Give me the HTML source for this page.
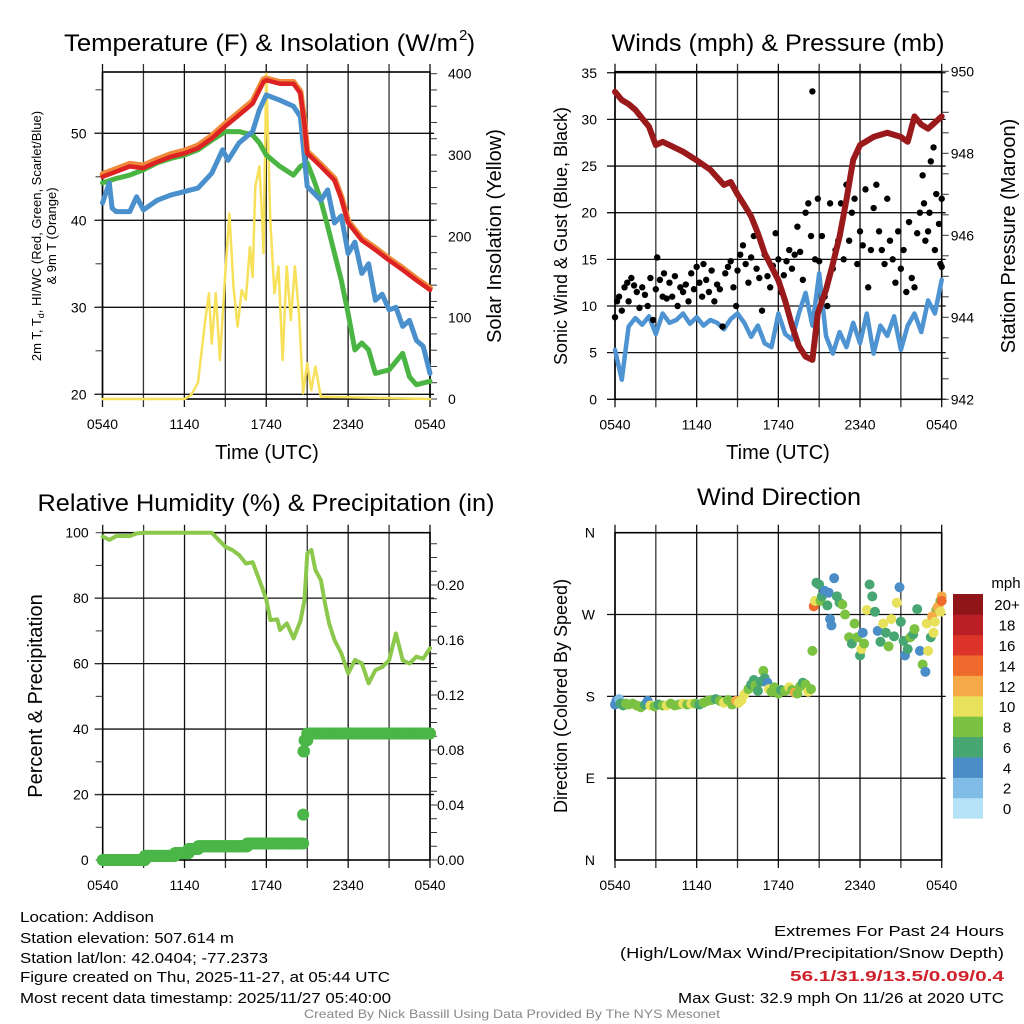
<!DOCTYPE html>
<html><head><meta charset="utf-8"><style>
html,body{margin:0;padding:0;background:#fff;}
svg{display:block;font-family:"Liberation Sans",Arial,sans-serif;}
</style></head><body>
<svg id="fig" width="1024" height="1024" viewBox="0 0 1024 1024" xmlns="http://www.w3.org/2000/svg">
<rect width="1024" height="1024" fill="#fff"/>
<text x="64" y="51" font-size="24" textLength="394" lengthAdjust="spacingAndGlyphs">Temperature (F) &amp; Insolation (W/m</text>
<text x="459" y="40" font-size="15">2</text>
<text x="467" y="51" font-size="24">)</text>
<text x="778" y="51" font-size="24" text-anchor="middle" textLength="333" lengthAdjust="spacingAndGlyphs">Winds (mph) &amp; Pressure (mb)</text>
<text x="266" y="511" font-size="24" text-anchor="middle" textLength="457" lengthAdjust="spacingAndGlyphs">Relative Humidity (%) &amp; Precipitation (in)</text>
<text x="779" y="505" font-size="24" text-anchor="middle" textLength="164" lengthAdjust="spacingAndGlyphs">Wind Direction</text>

<text transform="translate(41,236) rotate(-90)" font-size="13" text-anchor="middle">2m T, T<tspan font-size="9" dy="3">d</tspan><tspan dy="-3">, HI/WC (Red, Green, Scarlet/Blue)</tspan></text>
<text transform="translate(56,236) rotate(-90)" font-size="13" text-anchor="middle">&amp; 9m T (Orange)</text>
<text transform="translate(501,236) rotate(-90)" font-size="20" text-anchor="middle">Solar Insolation (Yellow)</text>
<text x="267" y="459" font-size="20" text-anchor="middle">Time (UTC)</text>
<text transform="translate(567,236) rotate(-90)" font-size="18" text-anchor="middle">Sonic Wind &amp; Gust (Blue, Black)</text>
<text transform="translate(1015,236) rotate(-90)" font-size="20" text-anchor="middle">Station Pressure (Maroon)</text>
<text x="778" y="459" font-size="20" text-anchor="middle">Time (UTC)</text>
<text transform="translate(42,696) rotate(-90)" font-size="20" text-anchor="middle">Percent &amp; Precipitation</text>
<text transform="translate(567,696) rotate(-90)" font-size="18" text-anchor="middle">Direction (Colored By Speed)</text>

<g font-size="15">
<text x="20" y="922" textLength="134" lengthAdjust="spacingAndGlyphs">Location: Addison</text>
<text x="20" y="943" textLength="214" lengthAdjust="spacingAndGlyphs">Station elevation: 507.614 m</text>
<text x="20" y="963" textLength="248" lengthAdjust="spacingAndGlyphs">Station lat/lon: 42.0404; -77.2373</text>
<text x="20" y="982" textLength="370" lengthAdjust="spacingAndGlyphs">Figure created on Thu, 2025-11-27, at 05:44 UTC</text>
<text x="20" y="1003" textLength="371" lengthAdjust="spacingAndGlyphs">Most recent data timestamp: 2025/11/27 05:40:00</text>
<text x="1004" y="936" text-anchor="end" textLength="230" lengthAdjust="spacingAndGlyphs">Extremes For Past 24 Hours</text>
<text x="1004" y="958" text-anchor="end" textLength="384" lengthAdjust="spacingAndGlyphs">(High/Low/Max Wind/Precipitation/Snow Depth)</text>
<text x="1004" y="981" text-anchor="end" fill="#d0202a" font-weight="bold" textLength="214" lengthAdjust="spacingAndGlyphs">56.1/31.9/13.5/0.09/0.4</text>
<text x="1004" y="1003" text-anchor="end" textLength="326" lengthAdjust="spacingAndGlyphs">Max Gust: 32.9 mph On 11/26 at 2020 UTC</text>
</g>
<text x="512" y="1018" font-size="12" fill="#888" text-anchor="middle" textLength="416" lengthAdjust="spacingAndGlyphs">Created By Nick Bassill Using Data Provided By The NYS Mesonet</text>
</svg>
<script>
// ---------- data ----------
const xTickLabels=["0540","1140","1740","2340","0540"];
const redT=[0,1,2,3,4,5,6,7,8,9,10,11,11.8,12,13,14,14.5,14.8,15,16,17,17.5,18,19,20,21,22,23,24];
const redV=[45.0,45.6,46.2,46.0,46.7,47.3,47.7,48.3,49.4,50.8,52.1,53.4,55.9,56.1,55.7,55.7,54.6,51,47.7,46.2,44.6,42.5,39.7,37.7,36.6,35.4,34.3,33.1,32.0];
const orangeV=[45.3,45.9,46.5,46.3,47.0,47.6,48.0,48.6,49.7,51.1,52.4,53.7,56.2,56.3,55.9,55.9,54.8,51.2,47.9,46.4,44.8,42.7,39.9,37.9,36.8,35.6,34.5,33.3,32.2];
const greenT=[0,1,2,3,4,5,6,7,8,9,10,11,11.5,12,13,14,14.5,15,15.5,16,16.5,17,17.5,18,18.5,19,19.5,20,21,22,22.5,23,24];
const greenV=[44.3,44.8,45.2,45.8,46.6,47.1,47.5,48.1,49.2,50.2,50.2,49.8,48.9,47.5,46.2,45.2,46.2,46.6,44.6,42.3,39.3,36.2,33.1,29.3,25.1,25.9,25.1,22.4,22.8,24.7,22.0,21.1,21.5];
const blueT=[0,0.5,0.7,1,2,2.5,3,4,5,6,7,8,8.8,9.2,10,11,11.5,12,13,14,14.5,15,16,16.5,17,17.5,18,18.5,19,19.5,20,20.5,21,21.5,22,22.5,23,23.5,24];
const blueV=[42.0,44.3,41.4,41.0,41.0,42.7,41.2,42.3,42.9,43.3,43.7,45.4,48.1,46.9,48.9,50.2,52.7,54.4,53.8,53.1,51.9,43.9,42.3,43.5,39.7,40.5,36.2,37.5,33.9,35,30.8,31.5,29.7,30,27.8,28.5,26.2,25.5,22.4];
const solT=[0,6,6.5,7,7.5,7.8,8,8.3,8.6,9,9.3,9.6,9.9,10.2,10.5,10.8,11,11.2,11.5,11.7,11.8,12,12.3,12.6,12.9,13.2,13.5,13.8,14.1,14.4,14.7,15,15.3,15.6,16,24];
const solV=[0,0,5,20,93,130,68,130,48,155,228,138,89,134,122,187,150,261,286,220,179,400,220,130,163,48,163,97,163,105,7,44,11,40,3,0];
const tempTicks=[20,30,40,50];
const solarTicks=[0,100,200,300,400];

const presT=[0,0.5,1,1.5,2,2.5,3,3.5,4,5,6,7,8,8.5,9,9.5,10,10.5,11,12,12.5,13,13.5,14,14.5,14.9,15.5,16,16.5,17,17.5,18,18.5,19,20,21,21.5,22,22.5,23,24];
const presV=[949.5,949.3,949.2,949.06,948.85,948.65,948.2,948.28,948.2,948.04,947.83,947.6,947.23,947.3,947.0,946.74,946.46,946.05,945.56,944.9,944.4,943.8,943.3,943.04,942.96,944.1,944.67,945.3,945.97,946.86,947.84,948.2,948.3,948.4,948.5,948.4,948.28,948.9,948.7,948.6,948.9];
const windV=[5.3,2.1,7.8,8.7,8.0,8.9,7.0,9.2,8.2,8.5,9.2,8.1,8.8,7.9,8.5,8.2,7.5,8.6,9.2,8.2,6.7,7.9,6.0,5.6,9.2,7.0,6.4,9.2,11.4,7.9,13.5,6.8,4.9,7.2,5.6,8.2,6.0,9.2,4.9,7.9,6.8,8.9,5.3,7.9,9.2,7.2,10.6,9.2,12.8];
const gustT=[0,0.15,0.3,0.5,0.7,0.9,1.0,1.2,1.4,1.6,1.8,2.0,2.2,2.4,2.6,2.8,3.0,3.1,3.3,3.5,3.6,3.8,4.0,4.2,4.4,4.6,4.8,5.0,5.2,5.4,5.6,5.8,6.0,6.2,6.4,6.5,6.7,6.9,7.1,7.3,7.5,7.7,7.9,8.1,8.3,8.5,8.7,8.9,9.0,9.2,9.4,9.6,9.8,10,10.2,10.4,10.6,10.8,11.0,11.2,11.4,11.6,11.8,12.0,12.2,12.4,12.6,12.8,13.0,13.2,13.4,13.6,13.8,14.0,14.2,14.4,14.5,14.7,14.9,15.0,15.2,15.4,15.6,15.8,16.0,16.2,16.4,16.6,16.8,17.0,17.2,17.4,17.6,17.8,18.0,18.2,18.4,18.6,18.8,19.0,19.2,19.4,19.6,19.8,20.0,20.2,20.4,20.6,20.8,21.0,21.2,21.4,21.6,21.8,22.0,22.2,22.4,22.6,22.7,22.8,23.0,23.1,23.2,23.4,23.5,23.6,23.8,23.9,24.0,24.0];
const gustV=[8.8,10.5,11,9.5,12,12.5,10.5,13,12.2,11.5,9.8,12,11.2,10,13,8.5,11.8,15.2,12.8,11,13.5,10.8,12.5,11,13.2,10,12,11.5,12.3,10.5,13.5,11.8,14.2,12.5,11,14.5,12.8,11.5,13.8,10.5,12.3,11.8,7.8,13.5,14.2,14.8,12,10,13.8,15.5,16.5,14.5,12.5,15.2,17.5,14,13,9.5,15.5,13.2,12,14.3,17.8,15,11.5,13.3,14.8,16,14,15.5,18.5,15.8,12.8,20,21,17.5,33,15,21.5,14.8,17.5,11,10,21,14,16,17,21,15,23,17,20,21.5,14.5,18,16.5,22.5,12,16,20.5,23,18,16,14.5,21.5,17,15,12.5,18,14,16,11.5,19,13,12,17.8,20,24,21,17,18,20,25.5,27,16,22,18.8,14.5,21.5,14.2];
const windTicks=[0,5,10,15,20,25,30,35];
const presTicks=[942,944,946,948,950];

const rhT=[0,0.5,1,2,2.5,3,5,8,8.5,9,9.5,10,10.5,11,11.3,11.8,12,12.3,12.8,13,13.5,14,14.5,14.8,15,15.3,15.6,16,16.3,16.6,17,17.5,18,18.5,19,19.5,20,20.5,21,21.5,22,22.5,23,23.5,24];
const rhV=[98.8,97.8,99,99,99.8,100,100,100,97.8,95.7,94.7,93.2,90.6,91,87.6,82,79.4,73.3,73.5,70.3,72.3,67.7,73,79.4,93.7,94.7,88.6,85.5,78.4,72.3,67.2,63.1,57,61.1,60.1,54,58,59,61,69.2,61,60,62.1,61.5,64.7];
const precipT=[0,3.1,5.3,6.3,7,10.6,14.7,14.72,14.8,15];
const precipV=[0,0.003,0.005,0.008,0.01,0.012,0.033,0.079,0.087,0.092];
const rhTicks=[0,20,40,60,80,100];
const precipTicks=[0,0.04,0.08,0.12,0.16,0.20];

const dirT=[0,0.1,0.3,0.4,0.6,0.8,1.0,1.3,1.6,1.9,2.2,2.4,2.6,2.9,3.2,3.5,3.8,4.1,4.4,4.7,5.0,5.3,5.6,5.9,6.2,6.5,6.8,7.1,7.4,7.7,8.0,8.3,8.6,8.9,9.1,9.3,9.5,9.8,10.0,10.2,10.3,10.5,10.7,10.9,11.0,11.2,11.3,11.5,11.7,12.0,12.2,12.5,12.8,13.0,13.2,13.4,13.6,13.8,14.0,14.2,14.4,14.5,14.6,14.7,14.8,15.0,15.1,15.2,15.4,15.6,15.7,15.8,15.9,16.1,16.3,16.5,16.7,16.9,17.2,17.4,17.6,17.8,18.0,18.1,18.2,18.3,18.5,18.7,18.9,19.1,19.3,19.5,19.7,19.9,20.1,20.3,20.5,20.7,20.9,21.0,21.2,21.3,21.5,21.7,21.9,22.0,22.2,22.4,22.6,22.8,23.0,23.2,23.4,23.6,23.8,23.9,24.0,22.9,23.3,23.5,23.7,24.0,23.9];
const dirV=[171,175,177,172,170,172,171,172,170,168,171,175,170,169,171,170,170,172,170,171,172,171,172,172,171,173,175,176,177,175,173,176,171,175,173,176,182,188,193,198,192,186,196,208,200,195,188,185,190,183,187,186,190,187,184,183,191,195,193,185,188,230,279,285,305,303,285,290,296,280,294,265,258,310,290,283,281,270,245,238,260,245,225,232,250,238,275,303,290,273,252,240,260,250,235,265,246,283,300,262,241,225,232,245,248,254,276,230,215,207,230,245,250,275,280,285,290,260,268,262,278,285,273];
const dirS=[4,4,2,6,6,8,8,8,8,8,6,4,10,8,6,8,10,8,8,8,10,8,10,8,6,8,8,8,6,8,10,8,8,12,10,10,10,8,6,6,8,6,6,8,6,4,10,8,8,8,6,8,10,8,12,8,8,6,8,10,8,8,14,10,6,6,8,6,4,6,4,4,4,4,6,6,8,8,8,6,8,8,6,10,4,8,10,6,6,6,4,6,10,6,8,10,6,10,4,6,6,4,6,8,6,8,6,4,8,4,10,6,10,8,10,8,12,10,12,10,12,14,10];
const dirTicks=[0,90,180,270,360];
const dirTickLabels=["N","E","S","W","N"];
const speedBins=["0","2","4","6","8","10","12","14","16","18","20+"];
const speedColors=["#b5e2f7","#80bde6","#4a8dc7","#47a671","#7cc242","#e8e15b","#f6a947","#ee6a2d","#dc3428","#ba1f26","#8f1519"];

// ---------- helpers ----------
const NS="http://www.w3.org/2000/svg";
const svg=document.getElementById('fig');
function mk(tag,attrs,parent){const e=document.createElementNS(NS,tag);for(const k in attrs)e.setAttribute(k,attrs[k]);(parent||svg).appendChild(e);return e;}
const P1={x0:102.5,x1:430,y0:72,y1:399};
const P2={x0:615,x1:941.7,y0:71.7,y1:399.3};
const P3={x0:102.7,x1:430,y0:532.7,y1:860};
const P4={x0:615,x1:941.7,y0:532.7,y1:860};
function xs(P,t){return P.x0+t/24*(P.x1-P.x0);}
const t1y=v=>133.3-(v-50)*8.7;
const s1y=w=>399-w*0.8133;
const w2y=m=>399.3-m*9.33;
const p2y=mb=>399.3-(mb-942)*41;
const h3y=r=>860-r*3.273;
const p3y=v=>860-v*1375;
const d4y=d=>860-d*(327.3/360);

function grid(P,hVals,yf,name){
  const g=mk('g',{});
  
  
  for(let t=0;t<=24;t+=3){
    const x=xs(P,t);
    const l=mk('line',{x1:x,x2:x,y1:P.y0-8,y2:P.y1+8,stroke:(t%6==0?'#111':'#333'),'stroke-width':1.3},g);
    
    
  }
  hVals.forEach(v=>{
    const y=yf(v);
    const l=mk('line',{x1:P.x0-8,x2:P.x1+4,y1:y,y2:y,stroke:'#111','stroke-width':1.3},g);
    
    
  });
  const f=mk('rect',{x:P.x0,y:P.y0,width:P.x1-P.x0,height:P.y1-P.y0,fill:'none',stroke:'#000','stroke-width':1.6},g);
  
  
  xTickLabels.forEach((s,i)=>{
    const tx=mk('text',{x:xs(P,i*6),y:P.y1+30,'font-size':14,'text-anchor':'middle'},g);
    tx.textContent=s;
    
    
  });
}
function leftLabels(P,vals,yf,fmt,name,dx){
  vals.forEach(v=>{
    const tx=mk('text',{x:P.x0-(dx||14),y:yf(v)+5,'font-size':14,'text-anchor':'end'});
    tx.textContent=fmt(v);
    
    
  });
}
function rightAxis(P,vals,yf,fmt,minorStep,lo,hi,name,dx){
  for(let v=lo;v<=hi+1e-9;v+=minorStep){
    const y=yf(v);
    const l=mk('line',{x1:P.x1,x2:P.x1+7,y1:y,y2:y,stroke:'#333','stroke-width':1});
    
    
  }
  vals.forEach(v=>{
    const tx=mk('text',{x:P.x1+dx,y:yf(v)+5,'font-size':14});
    tx.textContent=fmt(v);
    
    
  });
}
function line(P,T,V,yf,color,w,name){
  const d=T.map((t,i)=>(i?'L':'M')+xs(P,t).toFixed(1)+','+yf(V[i]).toFixed(1)).join('');
  const p=mk('path',{d:d,fill:'none',stroke:color,'stroke-width':w,'stroke-linejoin':'round','stroke-linecap':'round'});
  
  
}

// ---------- panel 1 ----------
grid(P1,tempTicks,t1y,'temperature');
for(let v=20;v<=55;v+=5){const y=t1y(v);const l=mk('line',{x1:P1.x0-7,x2:P1.x0,y1:y,y2:y,stroke:'#333'});}
leftLabels(P1,tempTicks,t1y,v=>v,'temperature',16);
rightAxis(P1,solarTicks,s1y,v=>v,20,0,400,'solar',18);
line(P1,solT,solV,s1y,'#f7e05a',2.5,'solar-insolation-line');
line(P1,greenT,greenV,t1y,'#4bb543',5,'dewpoint-line');
line(P1,blueT,blueV,t1y,'#4a90cc',5,'heat-index-wind-chill-line');
line(P1,redT,orangeV,t1y,'#f08a3a',6,'9m-temperature-line');
line(P1,redT,redV,t1y,'#dc2222',4.5,'2m-temperature-line');

// ---------- panel 2 ----------
grid(P2,windTicks,w2y,'winds');
leftLabels(P2,windTicks,w2y,v=>v,'wind',18);
rightAxis(P2,presTicks,p2y,v=>v,0.5,942,950,'pressure',9);
line(P2,windV.map((v,i)=>i*0.5),windV,w2y,'#4e94d2',4.5,'sonic-wind-line');
gustT.forEach((t,i)=>{
  const c=mk('circle',{cx:xs(P2,t),cy:w2y(gustV[i]),r:3.2,fill:'#000'});
  
  
});
line(P2,presT,presV,p2y,'#9a1a1c',6,'pressure-line');

// ---------- panel 3 ----------
grid(P3,[20,40,60,80],h3y,'humidity');
for(let v=0;v<=100;v+=10){const y=h3y(v);const l=mk('line',{x1:P3.x0-7,x2:P3.x0,y1:y,y2:y,stroke:'#333'});}
leftLabels(P3,rhTicks,h3y,v=>v,'humidity',14);
rightAxis(P3,precipTicks,p3y,v=>v.toFixed(2),0.01,0,0.23,'precip',7);
line(P3,rhT,rhV,h3y,'#8cc84b',4,'relative-humidity-line');
precipT.forEach((t,i)=>{
  const end=(i<precipT.length-1)?precipT[i+1]:24;
  for(let tt=t;tt<=end+1e-9;tt+=0.05){
    const c=mk('circle',{cx:xs(P3,tt),cy:p3y(precipV[i]),r:6,fill:'#4bb648'});
    
    
    if(end-t<0.05)break;
  }
});

// ---------- panel 4 ----------
grid(P4,[90,180,270],d4y,'direction');
dirTicks.forEach((d,i)=>{
  const tx=mk('text',{x:P4.x0-20,y:d4y(d)+5,'font-size':14,'text-anchor':'end'});
  tx.textContent=dirTickLabels[i];
  
  
});
dirT.forEach((t,i)=>{
  const b=Math.min(10,Math.max(0,Math.floor(dirS[i]/2)));
  const c=mk('circle',{cx:xs(P4,t),cy:d4y(dirV[i]),r:5,fill:speedColors[b]});
  
  
});
// colorbar
const cbTop=594,cbBot=818.3,cbH=(cbBot-cbTop)/11;
speedBins.forEach((s,i)=>{
  const y=cbBot-(i+1)*cbH;
  const r=mk('rect',{x:953,y:y,width:30,height:cbH+0.3,fill:speedColors[i]});
  
  
  const tx=mk('text',{x:1007,y:y+cbH/2+6,'font-size':15,'text-anchor':'middle'});
  tx.textContent=s;
  
  
});
const mph=mk('text',{x:1006,y:588,'font-size':15,'text-anchor':'middle'});
mph.textContent='mph';


</script>
</body></html>
